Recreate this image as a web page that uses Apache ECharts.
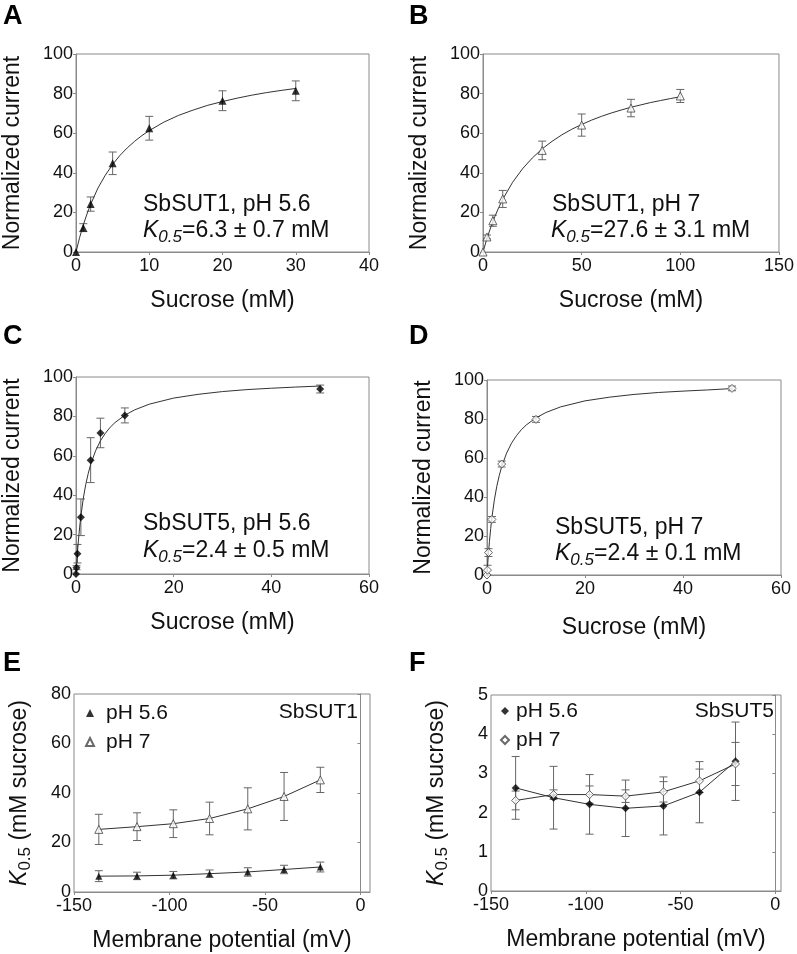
<!DOCTYPE html>
<html><head><meta charset="utf-8">
<script src="https://cdn.jsdelivr.net/npm/echarts@6/dist/echarts.min.js"></script>
<style>html,body{margin:0;padding:0;background:#fff}#c{width:797px;height:954px}</style>
</head><body><div id="c"></div>
<script>
const FONT = "'Liberation Sans', Arial, Helvetica, sans-serif";

// Panel A: SbSUT1, pH 5.6
const A_x = [0, 1, 2, 5, 10, 20, 30];
const A_y = [0, 12.3, 24.2, 44.8, 62.5, 76.4, 81.4];
const A_err = [0, 2, 3.6, 5.7, 6, 5, 5];
// fitted curve
const A_fitX = [0, 0.5, 1, 1.5, 2, 3, 4, 5, 6, 7, 8, 9, 10, 12, 14, 16, 18, 20, 22, 24, 26, 28, 30];
const A_fitY = [0, 7.4, 13.7, 19.2, 24.1, 32.3, 38.8, 44.2, 48.8, 52.6, 55.9, 58.8, 61.3, 65.6, 69.0, 71.7, 74.1, 76.0, 77.7, 79.2, 80.5, 81.6, 82.6];

// Panel B: SbSUT1, pH 7
const B_x = [0, 2, 5, 10, 30, 50, 75, 100];
const B_y = [0, 7.6, 15.8, 26.8, 51.3, 64.1, 72.7, 78.8];
const B_err = [0, 1, 2.8, 4.3, 4.7, 5.6, 4.4, 3.3];
const B_fitX = [0, 2, 4, 6, 8, 10, 15, 20, 25, 30, 35, 40, 45, 50, 55, 60, 65, 70, 75, 80, 85, 90, 95, 100];
const B_fitY = [0, 6.8, 12.7, 17.9, 22.5, 26.6, 35.2, 42.0, 47.5, 52.1, 55.9, 59.2, 62.0, 64.4, 66.6, 68.5, 70.2, 71.7, 73.1, 74.3, 75.5, 76.5, 77.5, 78.4];

// Panel C: SbSUT5, pH 5.6
const C_x = [0, 0.1, 0.3, 1, 3, 5, 10, 50];
const C_y = [0, 3.2, 10.3, 28.8, 57.8, 71.6, 80.5, 93.9];
const C_err = [0, 1, 4.7, 9.3, 11.4, 7.5, 3.8, 2];
const C_fitX = [0, 0.1, 0.2, 0.3, 0.5, 0.75, 1, 1.5, 2, 2.5, 3, 4, 5, 6, 7, 8, 10, 12, 15, 20, 25, 30, 35, 40, 45, 50];
const C_fitY = [0, 4.0, 7.7, 11.1, 17.2, 23.8, 29.4, 38.5, 45.5, 51.0, 55.6, 62.5, 67.6, 71.4, 74.5, 76.9, 80.6, 83.3, 86.2, 89.3, 91.2, 92.6, 93.6, 94.3, 94.9, 95.4];

// Panel D: SbSUT5, pH 7
const D_x = [0, 0.1, 0.3, 1, 3, 10, 50];
const D_y = [0, 2.5, 11.5, 28.5, 56.9, 79.8, 95.7];
const D_err = [0, 2.5, 2, 1.5, 1.5, 1.5, 1.2];
const D_fitX = [0, 0.1, 0.2, 0.3, 0.5, 0.75, 1, 1.5, 2, 2.5, 3, 4, 5, 6, 7, 8, 10, 12, 15, 20, 25, 30, 35, 40, 45, 50];
const D_fitY = [0, 4.0, 7.7, 11.1, 17.2, 23.8, 29.4, 38.5, 45.5, 51.0, 55.6, 62.5, 67.6, 71.4, 74.5, 76.9, 80.6, 83.3, 86.2, 89.3, 91.2, 92.6, 93.6, 94.3, 94.9, 95.6];

// Panels E/F: membrane potential
const V_x = [-137, -117, -98, -79, -59, -40, -21];
const E_y56 = [6.4, 6.5, 6.8, 7.4, 8.1, 9.1, 10.1];
const E_err56 = [2.2, 1.5, 1.5, 1.5, 1.7, 1.7, 2];
const E_y7 = [25.3, 26.4, 27.6, 29.7, 33.6, 38.6, 45.3];
const E_err7 = [6.1, 5.6, 5.6, 6.6, 8.5, 9.7, 5.1];
const F_y56 = [2.63, 2.38, 2.21, 2.11, 2.17, 2.52, 3.31];
const F_err56 = [0.8, 0.8, 0.76, 0.72, 0.74, 0.78, 1.0];
const F_y7 = [2.31, 2.46, 2.46, 2.42, 2.53, 2.81, 3.24];
const F_err7 = [0.24, 0.12, 0.22, 0.16, 0.26, 0.3, 0.55];

const AX = '#8a8a8a';
const LINE = '#333';
const ERR = '#666';

function zip(xs, ys) { return xs.map((x, i) => [x, ys[i]]); }

function errSeries(idx, xs, ys, es) {
  const data = [];
  xs.forEach((x, i) => { if (es[i] > 0) data.push([x, ys[i] - es[i], ys[i] + es[i]]); });
  return {
    type: 'custom', xAxisIndex: idx, yAxisIndex: idx, silent: true, z: 1,
    encode: { x: 0, y: [1, 2] },
    data,
    renderItem: function (params, api) {
      const x = api.value(0), lo = api.value(1), hi = api.value(2);
      const p1 = api.coord([x, lo]), p2 = api.coord([x, hi]);
      const w = 4;
      const st = { stroke: ERR, lineWidth: 1 };
      return {
        type: 'group', children: [
          { type: 'line', shape: { x1: p1[0], y1: p1[1], x2: p2[0], y2: p2[1] }, style: st },
          { type: 'line', shape: { x1: p1[0] - w, y1: p1[1], x2: p1[0] + w, y2: p1[1] }, style: st },
          { type: 'line', shape: { x1: p2[0] - w, y1: p2[1], x2: p2[0] + w, y2: p2[1] }, style: st }
        ]
      };
    }
  };
}

function fitSeries(idx, xs, ys) {
  return {
    type: 'line', xAxisIndex: idx, yAxisIndex: idx, data: zip(xs, ys),
    smooth: false, showSymbol: false, silent: true, z: 2,
    lineStyle: { color: LINE, width: 1 }
  };
}

function markSeries(idx, name, xs, ys, symbol, open, size) {
  return {
    type: 'scatter', name, xAxisIndex: idx, yAxisIndex: idx, data: zip(xs, ys),
    symbol, symbolSize: size || 8, z: 3,
    itemStyle: open ? { color: '#fff', borderColor: '#444', borderWidth: 1 } : { color: '#000' }
  };
}

const grids = [
  { left: 73, top: 54, width: 296, height: 198 },
  { left: 483, top: 54, width: 298, height: 198 },
  { left: 74, top: 377, width: 295, height: 197 },
  { left: 487, top: 380, width: 294, height: 195 },
  { left: 74, top: 694, width: 296, height: 198 },
  { left: 491, top: 695, width: 290, height: 196 }
].map(g => Object.assign({ show: true, borderColor: AX, borderWidth: 1, backgroundColor: 'transparent' }, g));

function xAxis(idx, min, max, interval, name, gap, hideMax) {
  return {
    type: 'value', gridIndex: idx, min, max, interval,
    name, nameLocation: 'middle', nameGap: gap,
    nameTextStyle: { fontFamily: FONT, fontSize: 23, color: '#111' },
    axisLine: { show: true, onZero: false, lineStyle: { color: AX, width: 1 } },
    axisTick: { show: true, inside: false, length: 3, lineStyle: { color: AX } },
    axisLabel: { fontFamily: FONT, fontSize: 18, color: '#111', margin: 5, showMaxLabel: !hideMax },
    splitLine: { show: false }
  };
}

function yAxis(idx, min, max, interval, name, gap, rich) {
  const o = {
    type: 'value', gridIndex: idx, min, max, interval,
    name, nameLocation: 'middle', nameGap: gap, nameRotate: 90,
    nameTextStyle: { fontFamily: FONT, fontSize: 23, color: '#111' },
    axisLine: { show: true, lineStyle: { color: AX, width: 1 } },
    axisTick: { show: true, inside: false, length: 3, lineStyle: { color: AX } },
    axisLabel: { fontFamily: FONT, fontSize: 18, color: '#111', margin: 3 },
    splitLine: { show: false }
  };
  if (rich) o.nameTextStyle.rich = rich;
  return o;
}

const kRich = {
  k: { fontFamily: FONT, fontSize: 23, fontStyle: 'italic', color: '#111' },
  s: { fontFamily: FONT, fontSize: 17, color: '#111', padding: [12, 0, 0, 0] },
  n: { fontFamily: FONT, fontSize: 23, color: '#111' }
};

const xAxes = [
  xAxis(0, 0, 40, 10, 'Sucrose (mM)', 37),
  xAxis(1, 0, 150, 50, 'Sucrose (mM)', 37),
  xAxis(2, 0, 60, 20, 'Sucrose (mM)', 37),
  xAxis(3, 0, 60, 20, 'Sucrose (mM)', 41),
  xAxis(4, -150, 5, 50, 'Membrane potential (mV)', 37, true),
  xAxis(5, -150, 3, 50, 'Membrane potential (mV)', 37, true)
];
const yAxes = [
  yAxis(0, 0, 100, 20, 'Normalized current', 52),
  yAxis(1, 0, 100, 20, 'Normalized current', 52),
  yAxis(2, 0, 100, 20, 'Normalized current', 52),
  yAxis(3, 0, 100, 20, 'Normalized current', 52),
  yAxis(4, 0, 80, 20, '{k|K}{s|0.5}{n| (mM sucrose)}', 40, kRich),
  yAxis(5, 0, 5, 1, '{k|K}{s|0.5}{n| (mM sucrose)}', 40, kRich)
];

const series = [
  errSeries(0, A_x, A_y, A_err), fitSeries(0, A_fitX, A_fitY), markSeries(0, 'A', A_x, A_y, 'triangle', false, 8),
  errSeries(1, B_x, B_y, B_err), fitSeries(1, B_fitX, B_fitY), markSeries(1, 'B', B_x, B_y, 'triangle', true, 8),
  errSeries(2, C_x, C_y, C_err), fitSeries(2, C_fitX, C_fitY), markSeries(2, 'C', C_x, C_y, 'diamond', false, 8),
  errSeries(3, D_x, D_y, D_err), fitSeries(3, D_fitX, D_fitY), markSeries(3, 'D', D_x, D_y, 'diamond', true, 8),
  errSeries(4, V_x, E_y56, E_err56), fitSeries(4, V_x, E_y56), markSeries(4, 'E pH 5.6', V_x, E_y56, 'triangle', false, 7),
  errSeries(4, V_x, E_y7, E_err7), fitSeries(4, V_x, E_y7), markSeries(4, 'E pH 7', V_x, E_y7, 'triangle', true, 8),
  errSeries(5, V_x, F_y56, F_err56), fitSeries(5, V_x, F_y56), markSeries(5, 'F pH 5.6', V_x, F_y56, 'diamond', false, 8),
  errSeries(5, V_x, F_y7, F_err7), fitSeries(5, V_x, F_y7), markSeries(5, 'F pH 7', V_x, F_y7, 'diamond', true, 8)
];

function legend(names, left, top, pad) {
  return {
    data: names, left, top, orient: 'vertical', itemGap: 5, itemWidth: 8, itemHeight: 8, padding: 0,
    selectedMode: false, formatter: n => n.slice(2),
    textStyle: { fontFamily: FONT, fontSize: 21, color: '#111', lineHeight: 24, padding: [0, 0, 0, pad] }
  };
}

function txt(x, y, text, opts) {
  return {
    type: 'text', x, y, silent: true,
    style: Object.assign({ text, fontFamily: FONT, fontSize: 23, fill: '#111', textAlign: 'left', textVerticalAlign: 'middle' }, opts || {})
  };
}
function ktxt(x, y, rest) {
  return {
    type: 'text', x, y, silent: true,
    style: {
      text: '{k|K}{s|0.5}{n|' + rest + '}', textAlign: 'left', textVerticalAlign: 'middle',
      rich: {
        k: { fontFamily: FONT, fontSize: 23, fontStyle: 'italic', fill: '#111' },
        s: { fontFamily: FONT, fontSize: 17, fontStyle: 'italic', fill: '#111', padding: [12, 0, 0, 0] },
        n: { fontFamily: FONT, fontSize: 23, fill: '#111' }
      }
    }
  };
}
function letter(x, y, t) { return txt(x, y, t, { fontSize: 27, fontWeight: 'bold', fill: '#000' }); }

const graphics = [
  letter(3, 17, 'A'), letter(409, 17, 'B'), letter(3, 337, 'C'), letter(409, 337, 'D'),
  letter(3, 664, 'E'), letter(409, 664, 'F'),
  txt(143, 205, 'SbSUT1, pH 5.6'), ktxt(143, 231, '=6.3 ± 0.7 mM'),
  txt(552, 205, 'SbSUT1, pH 7'), ktxt(551, 231, '=27.6 ± 3.1 mM'),
  txt(143, 524, 'SbSUT5, pH 5.6'), ktxt(143, 551, '=2.4 ± 0.5 mM'),
  txt(555, 528, 'SbSUT5, pH 7'), ktxt(555, 554, '=2.4 ± 0.1 mM'),
  txt(358, 712, 'SbSUT1', { textAlign: 'right', fontSize: 21 }),
  txt(774, 711, 'SbSUT5', { textAlign: 'right', fontSize: 21 })
];

const chart = echarts.init(document.getElementById('c'), null, { renderer: 'canvas' });
chart.setOption({
  animation: false,
  backgroundColor: '#fff',
  grid: grids,
  xAxis: xAxes,
  yAxis: yAxes,
  legend: [legend(['E pH 5.6', 'E pH 7'], 85, 701, 7), legend(['F pH 5.6', 'F pH 7'], 500, 699, 2)],
  series,
  graphic: graphics
});
</script>
</body></html>
